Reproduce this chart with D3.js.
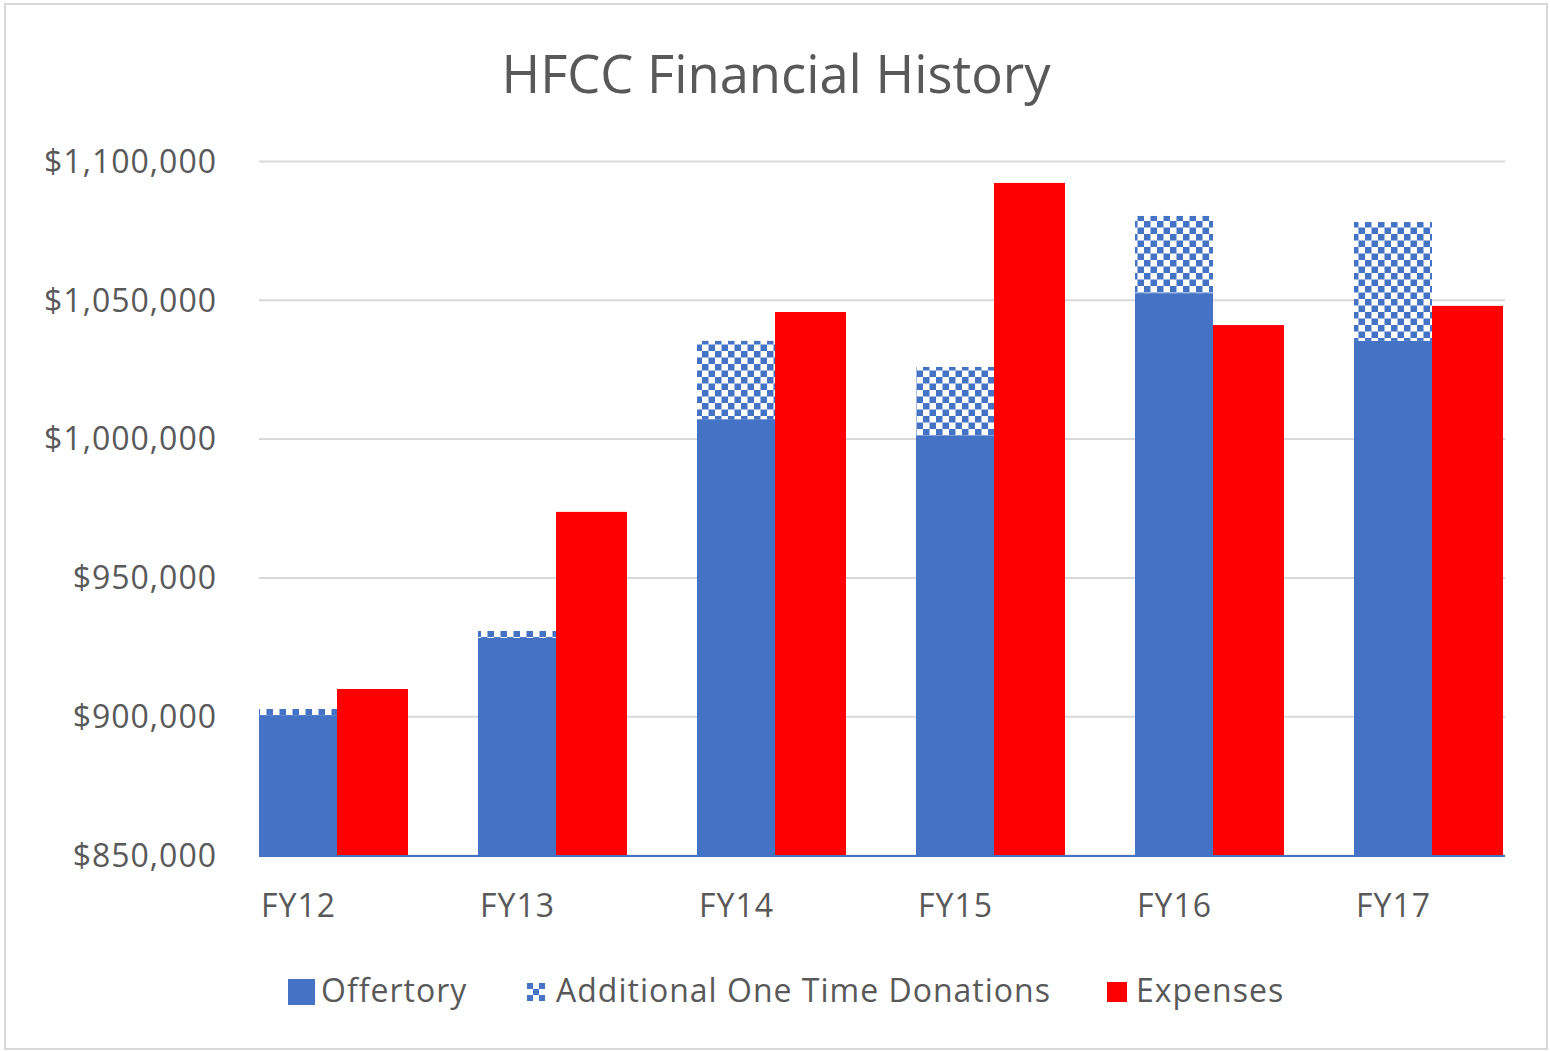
<!DOCTYPE html>
<head>
<meta charset="utf-8">
<title>HFCC Financial History</title>
<script src="https://d3js.org/d3.v7.min.js"></script>
<style>
	body { margin:0; background:#ffffff; }
	.chart text { font-family:"Open Sans", "Noto Sans", sans-serif; fill:#595959; }
	.lbl { font-size:32px; letter-spacing:1px; }
	.grid line { stroke:#d9d9d9; stroke-width:2; }
	.frame { fill:none; stroke:#d9d9d9; stroke-width:2; }
</style>
</head>
<body>
<div class="chartContainer"></div>
<script>
// values
var years=["FY12","FY13","FY14","FY15","FY16","FY17"];
var offertory=[900400,928200,1007000,1001200,1052400,1035200];
var oneTime=[2200,2500,28200,24600,27800,42800];
var expenses=[909800,973600,1045600,1092100,1040900,1047800];
var yTicks=[850000,900000,950000,1000000,1050000,1100000];
var legendNames=["Offertory","Additional One Time Donations","Expenses"];

var blue="#4472c4", red="#ff0000";
var W=1550, H=1052;
var plot={left:259, right:1505, top:161, bottom:855};

var svg=d3.select(".chartContainer").append("svg")
	.attr("class","chart")
	.attr("width",W).attr("height",H);

// checker pattern for the one time donations
var defs=svg.append("defs");
var pat=defs.append("pattern")
	.attr("id","checker")
	.attr("patternUnits","userSpaceOnUse")
	.attr("width",13).attr("height",13);
pat.append("rect").attr("width",13).attr("height",13).attr("fill","#ffffff");
pat.append("rect").attr("x",0).attr("y",0).attr("width",6.5).attr("height",6.5).attr("fill",blue);
pat.append("rect").attr("x",6.5).attr("y",6.5).attr("width",6.5).attr("height",6.5).attr("fill",blue);

// coarser checker for the legend key
var patSmall=defs.append("pattern")
	.attr("id","checkerSmall")
	.attr("patternUnits","userSpaceOnUse")
	.attr("x",527).attr("y",983)
	.attr("width",12).attr("height",12);
patSmall.append("rect").attr("width",12).attr("height",12).attr("fill","#ffffff");
patSmall.append("rect").attr("width",6).attr("height",6).attr("fill",blue);
patSmall.append("rect").attr("x",6).attr("y",6).attr("width",6).attr("height",6).attr("fill",blue);

svg.append("rect").attr("class","frame")
	.attr("x",5).attr("y",4).attr("width",1542).attr("height",1045);

svg.append("text")
	.attr("x",776).attr("y",93)
	.attr("text-anchor","middle")
	.style("font-size","52.5px")
	.text("HFCC Financial History");

var x=d3.scaleBand().domain(years).range([plot.left, plot.left+219*years.length]);
var y=d3.scaleLinear().domain([850000,1100000]).range([plot.bottom, plot.top]);

var blueW=78, redW=71;

// gridlines + y labels
var yAxis=d3.axisLeft(y).tickValues(yTicks)
	.tickSize(-(plot.right-plot.left))
	.tickPadding(42)
	.tickFormat(function(d){ return "$"+d3.format(",")(d); });
var gy=svg.append("g").attr("class","grid")
	.attr("transform","translate("+plot.left+",0)")
	.call(yAxis);
gy.select(".domain").remove();
gy.selectAll("text").attr("class","lbl").attr("dy","0.35em");

var groups=svg.selectAll(".yr").data(years).enter().append("g").attr("class","yr");

groups.append("rect")
	.attr("x",function(d){ return x(d); })
	.attr("width",blueW)
	.attr("y",function(d,i){ return y(offertory[i]); })
	.attr("height",function(d,i){ return plot.bottom-y(offertory[i]); })
	.attr("fill",blue);

groups.append("rect")
	.attr("x",function(d){ return x(d); })
	.attr("width",blueW)
	.attr("y",function(d,i){ return y(offertory[i]+oneTime[i]); })
	.attr("height",function(d,i){ return y(offertory[i])-y(offertory[i]+oneTime[i]); })
	.attr("fill","url(#checker)");

groups.append("rect")
	.attr("x",function(d){ return x(d)+blueW; })
	.attr("width",redW)
	.attr("y",function(d,i){ return y(expenses[i]); })
	.attr("height",function(d,i){ return plot.bottom-y(expenses[i]); })
	.attr("fill",red);

// bottom axis line
svg.append("line")
	.attr("x1",plot.left).attr("x2",plot.right)
	.attr("y1",plot.bottom+1).attr("y2",plot.bottom+1)
	.attr("stroke",blue).attr("stroke-width",2);

groups.append("text")
	.attr("class","lbl")
	.attr("x",function(d){ return x(d)+2; })
	.attr("y",917)
	.text(function(d){ return d; });

// legend
var leg=svg.append("g");
leg.append("rect").attr("x",288).attr("y",979).attr("width",27).attr("height",26).attr("fill",blue);
leg.append("text").attr("class","lbl").attr("x",321).attr("y",1002).text(legendNames[0]);
leg.append("rect").attr("x",527).attr("y",983).attr("width",18).attr("height",18).attr("fill","url(#checkerSmall)");
leg.append("text").attr("class","lbl").attr("x",556).attr("y",1002).text(legendNames[1]);
leg.append("rect").attr("x",1107).attr("y",982).attr("width",20).attr("height",20).attr("fill",red);
leg.append("text").attr("class","lbl").attr("x",1136).attr("y",1002).text(legendNames[2]);
</script>
</body>
</html>
